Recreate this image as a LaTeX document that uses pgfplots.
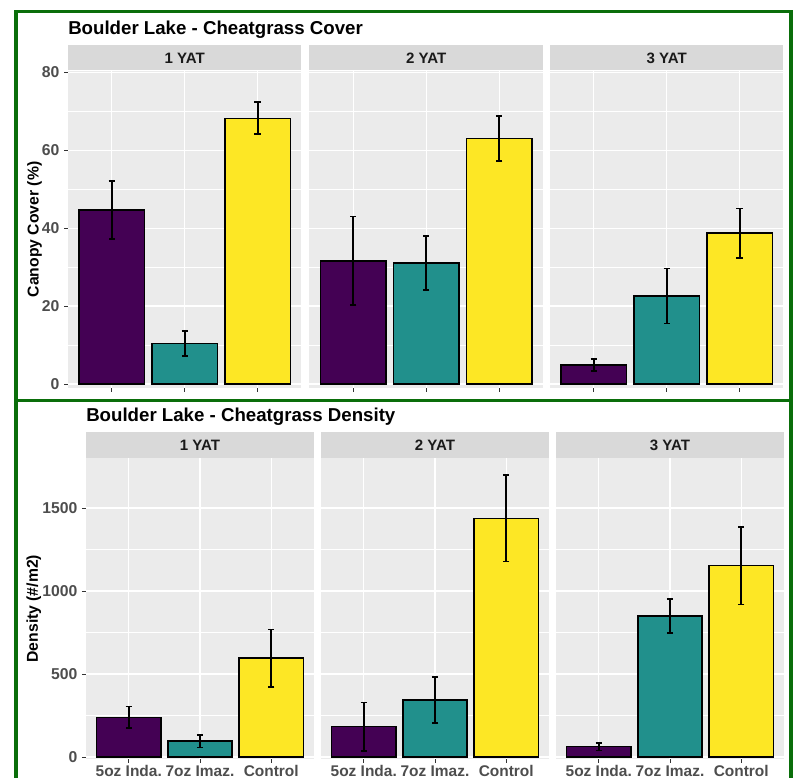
\documentclass[border=0pt]{standalone}
\usepackage{fontspec}
\setmainfont{Liberation Sans}
\usepackage{pgfplots}
\pgfplotsset{compat=1.18}
\definecolor{vpurple}{HTML}{440154}
\definecolor{vteal}{HTML}{21908C}
\definecolor{vyellow}{HTML}{FDE725}
\definecolor{panelbg}{HTML}{EBEBEB}
\definecolor{stripbg}{HTML}{D9D9D9}
\definecolor{tickgray}{HTML}{4D4D4D}
\definecolor{tickline}{HTML}{333333}
\definecolor{striptext}{HTML}{1A1A1A}
\definecolor{boxgreen}{HTML}{0A6E0A}
\newcommand{\tfont}{\bfseries\fontsize{11.8}{13.5}\selectfont}
\pgfplotsset{
  ggpanel/.style={
    scale only axis,
    xmin=0.4, xmax=3.6, xtick={1,2,3},
    axis background/.style={fill=panelbg},
    axis line style={draw=none},
    tick pos=left,
    grid=both,
    major grid style={draw=white, line width=0.85pt},
    minor grid style={draw=white, line width=0.45pt},
    minor y tick num=1,
    tick align=outside, major tick length=3pt, minor tick length=0pt,
    tick style={draw=tickline, line width=0.6pt},
    ybar, bar width=0.9, bar shift=0pt,
    clip=false,
    /pgf/number format/assume math mode=true,
    /pgf/number format/1000 sep={},
    ticklabel style={font=\tfont, text=tickgray},
    ylabel style={font=\tfont, text=black},
    every axis plot/.append style={draw=black, line width=1.1pt},
    error bars/y dir=both, error bars/y explicit,
    error bars/error bar style={line width=1.3pt, black},
    error bars/error mark=-,
    error bars/error mark options={rotate=90, line width=1.3pt, black, mark size=2.4pt},
  },
  topp/.style={ggpanel, width=175.1pt, height=237.75pt, ymin=-1.03, ymax=80.34,
    ytick={0,20,40,60,80}, xticklabels={,,}, ylabel shift=-7pt},
  botp/.style={ggpanel, width=171pt, height=225.5pt, ymin=-12, ymax=1799,
    ytick={0,500,1000,1500}, xticklabels={5oz Inda.,7oz Imaz.,Control},
    xticklabel style={font=\bfseries\fontsize{11.6}{13}\selectfont, text height=8.6pt, text depth=2.4pt, yshift=2.2pt}, ylabel shift=-6pt},
  inner/.style={yticklabels={}, ymajorticks=false},
}
\newcommand{\strip}[2]{%
  \fill[stripbg] ([yshift=0.5pt]rel axis cs:0,1) rectangle ([yshift=#2]rel axis cs:1,1);
  \node[font=\bfseries\fontsize{11.3}{13}\selectfont, text=striptext] at ([yshift=#2/2]rel axis cs:0.5,1) {#1};}
\begin{document}
\begin{tikzpicture}
\path[use as bounding box] (0,0) rectangle (597.75pt,583.5pt);
\draw[boxgreen, line width=2.6pt] (12pt,-10pt) -- (12pt,575pt) -- (593.25pt,575pt) -- (593.25pt,-10pt);
\draw[boxgreen, line width=2.6pt] (12pt,283.1pt) -- (593.25pt,283.1pt);
\node[anchor=base west, inner sep=0pt, font=\bfseries\fontsize{14}{16}\selectfont] at (51pt,557.25pt) {Boulder Lake - Cheatgrass Cover};
\node[anchor=base west, inner sep=0pt, font=\bfseries\fontsize{14}{16}\selectfont] at (64.5pt,267.4pt) {Boulder Lake - Cheatgrass Density};

% ---- Top: Canopy cover ----
\begin{axis}[topp, at={(51pt,292.5pt)}, anchor=south west, ylabel={Canopy Cover (\%)}]
\addplot[fill=vpurple] coordinates {(1,44.7) +- (0,7.45)};
\addplot[fill=vteal] coordinates {(2,10.4) +- (0,3.25)};
\addplot[fill=vyellow] coordinates {(3,68.2) +- (0,4.1)};
\strip{1 YAT}{19.5pt}
\end{axis}
\begin{axis}[topp, inner, at={(232.1pt,292.5pt)}, anchor=south west]
\addplot[fill=vpurple] coordinates {(1,31.6) +- (0,11.4)};
\addplot[fill=vteal] coordinates {(2,31.0) +- (0,6.95)};
\addplot[fill=vyellow] coordinates {(3,63.0) +- (0,5.85)};
\strip{2 YAT}{19.5pt}
\end{axis}
\begin{axis}[topp, inner, at={(412.5pt,292.5pt)}, anchor=south west]
\addplot[fill=vpurple] coordinates {(1,4.9) +- (0,1.55)};
\addplot[fill=vteal] coordinates {(2,22.6) +- (0,7.05)};
\addplot[fill=vyellow] coordinates {(3,38.7) +- (0,6.35)};
\strip{3 YAT}{19.5pt}
\end{axis}

% ---- Bottom: Density ----
\begin{axis}[botp, at={(64.5pt,14.25pt)}, anchor=south west, ylabel={Density (\#/m2)}]
\addplot[fill=vpurple] coordinates {(1,239) +- (0,65)};
\addplot[fill=vteal] coordinates {(2,96) +- (0,38)};
\addplot[fill=vyellow] coordinates {(3,595) +- (0,173)};
\strip{1 YAT}{20pt}
\end{axis}
\begin{axis}[botp, inner, at={(240.75pt,14.25pt)}, anchor=south west]
\addplot[fill=vpurple] coordinates {(1,183) +- (0,145)};
\addplot[fill=vteal] coordinates {(2,343) +- (0,139)};
\addplot[fill=vyellow] coordinates {(3,1438) +- (0,261)};
\strip{2 YAT}{20pt}
\end{axis}
\begin{axis}[botp, inner, at={(417pt,14.25pt)}, anchor=south west]
\addplot[fill=vpurple] coordinates {(1,62) +- (0,23)};
\addplot[fill=vteal] coordinates {(2,849) +- (0,102)};
\addplot[fill=vyellow] coordinates {(3,1152) +- (0,233)};
\strip{3 YAT}{20pt}
\end{axis}
\end{tikzpicture}
\end{document}
